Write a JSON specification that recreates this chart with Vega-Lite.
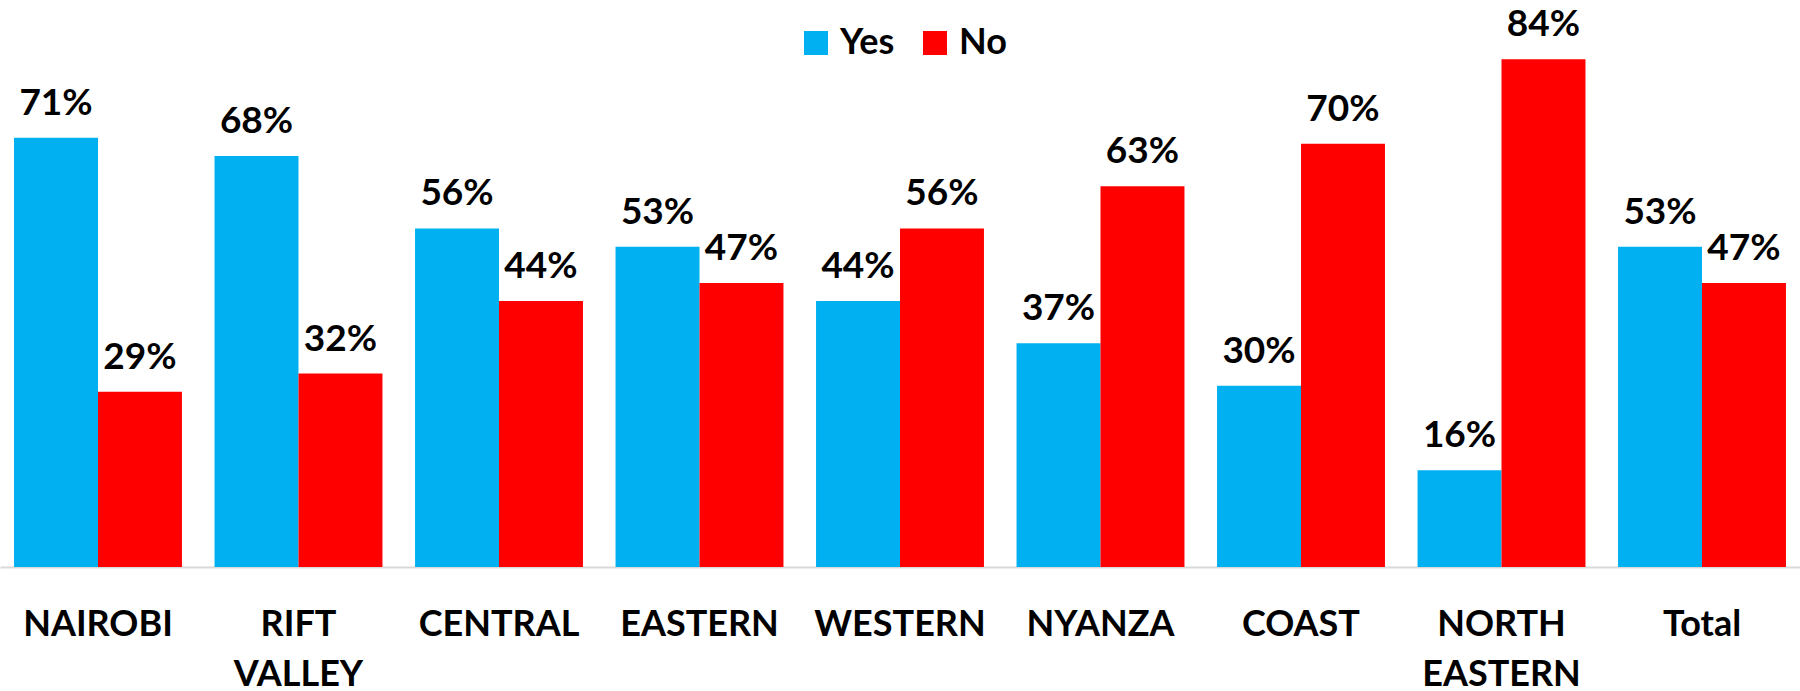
{
  "$schema": "https://vega.github.io/schema/vega-lite/v6.json",
  "width": 1800,
  "height": 567,
  "padding": {"left": 0, "top": 0, "right": 0, "bottom": 0},
  "background": "white",
  "config": {"view": {"stroke": null}, "font": "Lato"},
  "data": {
    "values": [
      {"region": "NAIROBI", "answer": "Yes", "value": 0.71},
      {"region": "NAIROBI", "answer": "No", "value": 0.29},
      {"region": "RIFT VALLEY", "answer": "Yes", "value": 0.68},
      {"region": "RIFT VALLEY", "answer": "No", "value": 0.32},
      {"region": "CENTRAL", "answer": "Yes", "value": 0.56},
      {"region": "CENTRAL", "answer": "No", "value": 0.44},
      {"region": "EASTERN", "answer": "Yes", "value": 0.53},
      {"region": "EASTERN", "answer": "No", "value": 0.47},
      {"region": "WESTERN", "answer": "Yes", "value": 0.44},
      {"region": "WESTERN", "answer": "No", "value": 0.56},
      {"region": "NYANZA", "answer": "Yes", "value": 0.37},
      {"region": "NYANZA", "answer": "No", "value": 0.63},
      {"region": "COAST", "answer": "Yes", "value": 0.30},
      {"region": "COAST", "answer": "No", "value": 0.70},
      {"region": "NORTH EASTERN", "answer": "Yes", "value": 0.16},
      {"region": "NORTH EASTERN", "answer": "No", "value": 0.84},
      {"region": "Total", "answer": "Yes", "value": 0.53},
      {"region": "Total", "answer": "No", "value": 0.47}
    ]
  },
  "encoding": {
    "x": {
      "field": "region", "type": "nominal", "sort": null,
      "scale": {"paddingInner": 0.1625, "paddingOuter": 0.07},
      "axis": {
        "title": null, "labelAngle": 0, "ticks": false,
        "labelFont": "Lato", "labelFontWeight": "bold", "labelFontSize": 36,
        "labelColor": "black", "labelPadding": 40, "labelLineHeight": 50,
        "labelExpr": "split(datum.label, ' ')",
        "domainColor": "#D9D9D9", "domainWidth": 2
      }
    },
    "xOffset": {"field": "answer", "type": "nominal", "sort": ["Yes", "No"], "scale": {"paddingInner": 0, "paddingOuter": 0}},
    "y": {
      "field": "value", "type": "quantitative",
      "scale": {"domain": [0, 0.938], "nice": false, "zero": true},
      "axis": null
    }
  },
  "layer": [
    {
      "mark": {"type": "bar"},
      "encoding": {
        "color": {
          "field": "answer", "type": "nominal",
          "scale": {"domain": ["Yes", "No"], "range": ["#00B0F0", "#FF0000"]},
          "legend": {
            "title": null, "orient": "none", "direction": "horizontal",
            "legendX": 798, "legendY": 25, "padding": 0,
            "symbolType": "square", "symbolSize": 576, "symbolStrokeWidth": 0,
            "labelFont": "Lato", "labelFontWeight": "bold", "labelFontSize": 36,
            "labelColor": "black", "labelOffset": 6, "columnPadding": 22
          }
        }
      }
    },
    {
      "mark": {"type": "text", "baseline": "alphabetic", "dy": -23, "font": "Lato", "fontWeight": "bold", "fontSize": 37, "color": "black"},
      "encoding": {
        "text": {"field": "value", "type": "quantitative", "format": ".0%"}
      }
    }
  ]
}
